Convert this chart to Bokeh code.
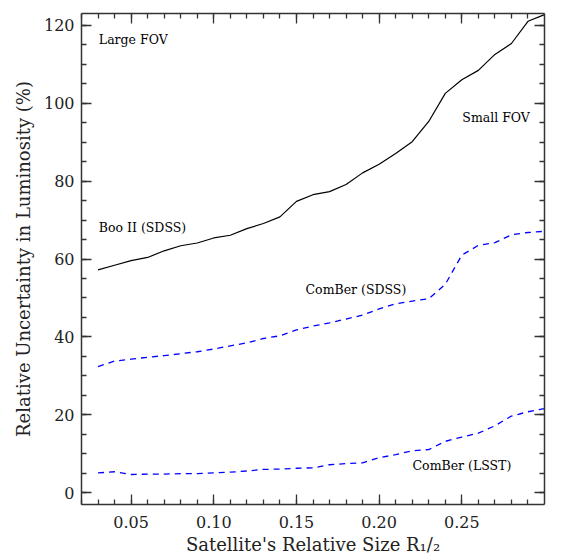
from bokeh.plotting import figure
from bokeh.models import LinearAxis, Label, Range1d, SingleIntervalTicker, NumeralTickFormatter
from bokeh.embed import file_html
from bokeh.resources import INLINE

# ---- data ----
x_size = [0.03, 0.04, 0.05, 0.06, 0.07, 0.08, 0.09, 0.10, 0.11, 0.12,
          0.13, 0.14, 0.15, 0.16, 0.17, 0.18, 0.19, 0.20, 0.21, 0.22,
          0.23, 0.24, 0.25, 0.26, 0.27, 0.28, 0.29, 0.30]
boo_sdss = [57.2, 58.4, 59.6, 60.4, 62.1, 63.4, 64.1, 65.4, 66.1, 67.8,
            69.1, 70.8, 74.8, 76.5, 77.3, 79.1, 82.1, 84.3, 87.1, 90.1,
            95.3, 102.5, 106.0, 108.4, 112.5, 115.3, 121.0, 122.7]
comber_sdss = [32.4, 33.8, 34.3, 34.8, 35.2, 35.7, 36.2, 36.9, 37.7, 38.5,
               39.6, 40.3, 41.8, 42.8, 43.6, 44.6, 45.6, 47.2, 48.5, 49.2,
               49.8, 53.5, 61.0, 63.5, 64.2, 66.2, 66.8, 67.1]
comber_lsst = [5.1, 5.4, 4.7, 4.8, 4.8, 4.9, 4.9, 5.1, 5.3, 5.6,
               6.0, 6.1, 6.3, 6.4, 7.2, 7.5, 7.7, 9.0, 9.8, 10.8,
               11.1, 13.2, 14.3, 15.3, 17.2, 19.7, 20.8, 21.6]

labels_text = ["Large FOV", "Small FOV", "Boo II (SDSS)", "ComBer (SDSS)", "ComBer (LSST)"]
labels_x = [0.0305, 0.2503, 0.0305, 0.1555, 0.2202]
labels_y = [116.4, 96.2, 68.0, 52.2, 6.9]

x_title = "Satellite's Relative Size R\u2081/\u2082"
y_title = "Relative Uncertainty in Luminosity (%)"

FONT = "DejaVu Serif"
AXC = "#333333"

p = figure(width=576, height=557, output_backend="svg", toolbar_location=None,
           x_range=Range1d(0.02, 0.30), y_range=Range1d(-3, 123),
           min_border_left=81, min_border_right=32, min_border_top=13, min_border_bottom=53,
           frame_width=463, frame_height=491)
p.xgrid.visible = False
p.ygrid.visible = False
p.outline_line_color = None
p.background_fill_color = "white"
p.border_fill_color = "white"

p.xaxis.ticker = SingleIntervalTicker(interval=0.05, num_minor_ticks=5)
p.yaxis.ticker = SingleIntervalTicker(interval=20, num_minor_ticks=4)

for ax in (p.xaxis[0], p.yaxis[0]):
    ax.major_tick_in = 10
    ax.major_tick_out = 0
    ax.minor_tick_in = 5
    ax.minor_tick_out = 0
    ax.axis_line_width = 1.5
    ax.axis_line_color = AXC
    ax.major_tick_line_color = AXC
    ax.minor_tick_line_color = AXC
    ax.major_tick_line_width = 1.3
    ax.minor_tick_line_width = 1.3
    ax.major_label_text_font = FONT
    ax.major_label_text_font_size = "16px"
    ax.major_label_text_color = "#222222"
    ax.axis_label_text_font = FONT
    ax.axis_label_text_font_style = "normal"
    ax.axis_label_text_color = "#222222"

p.xaxis.formatter = NumeralTickFormatter(format="0.00")
p.xaxis.major_label_standoff = 11
p.yaxis.major_label_standoff = 7
p.xaxis.axis_label = x_title
p.yaxis.axis_label = y_title
p.xaxis.axis_label_text_font_size = "18px"
p.yaxis.axis_label_text_font_size = "18px"
p.xaxis.axis_label_standoff = 3
p.yaxis.axis_label_standoff = 7

# mirrored axes (ticks only)
top = LinearAxis(ticker=SingleIntervalTicker(interval=0.05, num_minor_ticks=5))
right = LinearAxis(ticker=SingleIntervalTicker(interval=20, num_minor_ticks=4))
for ax in (top, right):
    ax.major_tick_in = 10
    ax.major_tick_out = 0
    ax.minor_tick_in = 5
    ax.minor_tick_out = 0
    ax.axis_line_width = 1.5
    ax.axis_line_color = AXC
    ax.major_tick_line_color = AXC
    ax.minor_tick_line_color = AXC
    ax.major_tick_line_width = 1.3
    ax.minor_tick_line_width = 1.3
    ax.major_label_text_color = None
    ax.major_label_text_font_size = "1px"
    ax.major_label_standoff = 0
p.add_layout(top, "above")
p.add_layout(right, "right")

p.line(x_size, boo_sdss, line_color="black", line_width=1.2)
p.line(x_size, comber_sdss, line_color="#0000ff", line_width=1.3, line_dash="6 5")
p.line(x_size, comber_lsst, line_color="#0000ff", line_width=1.3, line_dash="6 5")

for t, lx, ly in zip(labels_text, labels_x, labels_y):
    p.add_layout(Label(x=lx, y=ly, text=t, text_font=FONT, text_font_size="12.5px",
                       text_baseline="middle", text_align="left", text_color="black"))

open("out.html", "w").write(file_html(p, INLINE))
